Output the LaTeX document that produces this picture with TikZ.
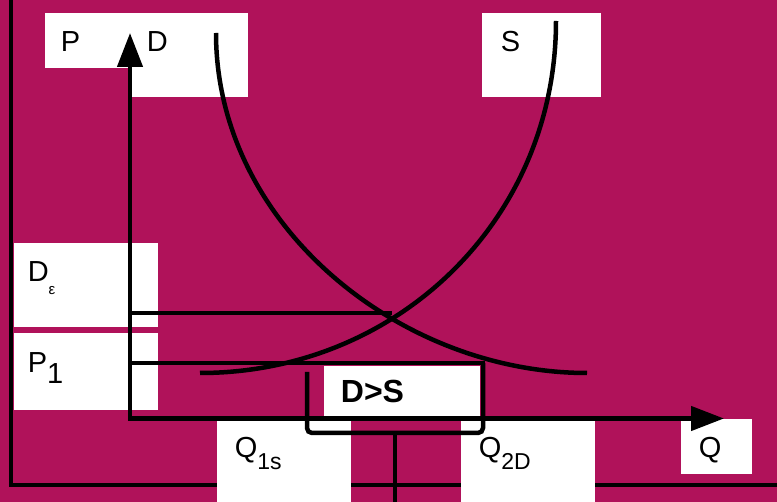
\documentclass[tikz,border=0pt]{standalone}
\usepackage{fontspec}
\setmainfont{Liberation Sans}
\usetikzlibrary{arrows.meta}
\definecolor{fondo}{RGB}{176,18,90}
\tikzset{
  lbl/.style={anchor=base west, inner sep=0pt, font=\fontsize{29}{34}\selectfont},
  linea/.style={line width=4.5pt},
}

\begin{document}
\begin{tikzpicture}[x=1pt,y=-1pt]
        \useasboundingbox (0,0) rectangle (777,502);
        \fill[fondo] (0,0) rectangle (777,502);

        %marco
        \draw[linea] (11,0) -- (11,485) -- (777,485);

        %cajas blancas de las etiquetas
        \fill[white] (45,13) rectangle (132,68);
        \fill[white] (132,13) rectangle (248,97);
        \fill[white] (482,13) rectangle (601,97);
        \fill[white] (13.5,243) rectangle (158,327);
        \fill[white] (13.5,333) rectangle (158,410);
        \fill[white] (324,366) rectangle (480,416);
        \fill[white] (217,421) rectangle (351,502);
        \fill[white] (461,421) rectangle (595,502);
        \fill[white] (681,419) rectangle (752,474);

        %ejes P y Q
        \coordinate (O) at (130,418.5);
        \coordinate (ejeP) at (130,33);
        \coordinate (ejeQ) at (724,418.5);
        \draw[linea, {Triangle[length=34pt,width=25pt]}-{Triangle[length=33pt,width=24pt]}] (ejeP) -- (O) -- (ejeQ);

        %curvas de demanda y oferta
        \draw[linea] (216,33) .. controls (216,225) and (400,373) .. (587,373);
        \draw[linea] (200,373) .. controls (397,373) and (556,220) .. (556,21);

        %rectas hasta las curvas
        \coordinate (de) at (130,313);
        \coordinate (eq) at (392,313);
        \draw[linea] (de) -- (eq);

        \coordinate (p1) at (130,363);
        \coordinate (p1d) at (485,363);
        \draw[linea] (p1) -- (p1d);

        %llave bajo D>S
        \coordinate (ll1) at (307,372);
        \coordinate (ll2) at (307,433);
        \coordinate (ll3) at (483,433);
        \coordinate (ll4) at (483,363);
        \draw[linea, rounded corners=5pt] (ll1) -- (ll2) -- (ll3) -- (ll4);

        \coordinate (ta) at (395,433);
        \coordinate (tb) at (395,505);
        \draw[linea] (ta) -- (tb);

        %etiquetas
        \node[lbl] (P) at (60.7,52) {P};
        \node[lbl] (D) at (146.6,52) {D};
        \node[lbl] (S) at (500.6,52) {S};
        \node[lbl] (De) at (27.6,282) {D\raisebox{-13pt}{\fontsize{15}{18}\selectfont ε}};
        \node[lbl] (P1) at (27.7,373) {P\raisebox{-11pt}{1}};
        \node[lbl, font=\bfseries\fontsize{32}{38}\selectfont] (DS) at (340.7,403) {D>S};
        \node[lbl] (Q1s) at (234.6,458) {Q\raisebox{-12pt}{\fontsize{23}{28}\selectfont 1s}};
        \node[lbl] (Q2D) at (478.6,458) {Q\raisebox{-12pt}{\fontsize{23}{28}\selectfont 2D}};
        \node[lbl] (Q) at (698.6,458) {Q};
\end{tikzpicture}
\end{document}
